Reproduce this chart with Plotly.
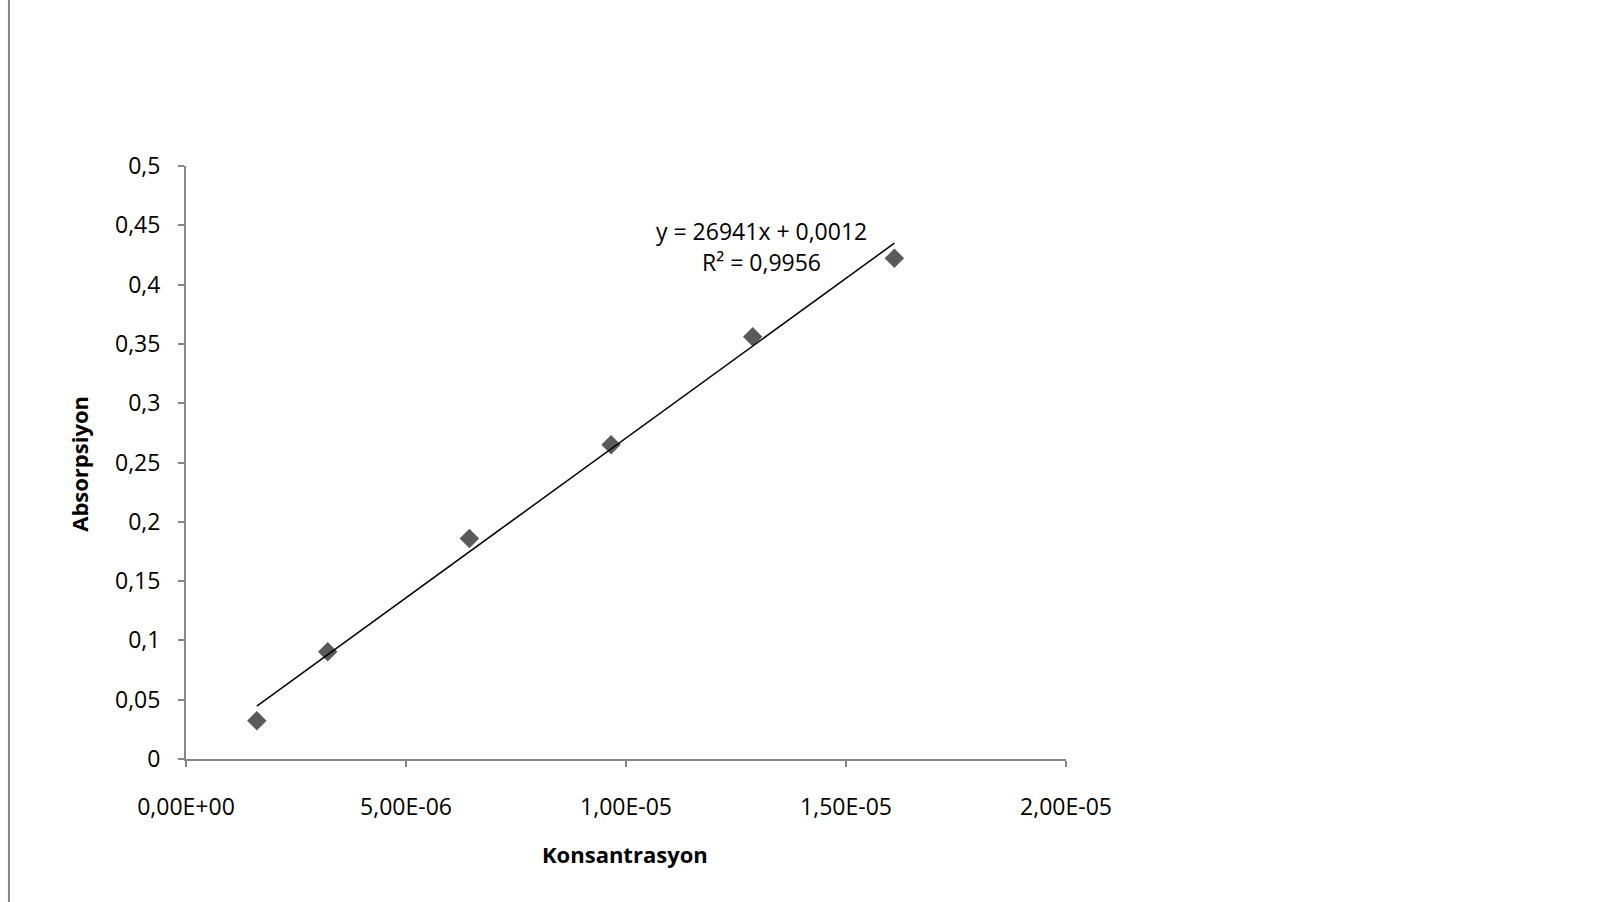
import plotly.graph_objects as go

# Calibration data: concentration vs absorbance
konsantrasyon = [1.61e-6, 3.22e-6, 6.44e-6, 9.66e-6, 1.288e-5, 1.61e-5]
absorpsiyon = [0.0323, 0.0904, 0.1859, 0.2650, 0.3560, 0.4222]

# Linear fit reported on the chart
egim = 26941
kesisim = 0.0012
r_kare = 0.9956

y_ticks = [0, 0.05, 0.1, 0.15, 0.2, 0.25, 0.3, 0.35, 0.4, 0.45, 0.5]
y_ticktext = ["0", "0,05", "0,1", "0,15", "0,2", "0,25", "0,3", "0,35", "0,4", "0,45", "0,5"]
x_ticks = [0, 5e-6, 1e-5, 1.5e-5, 2e-5]
x_ticktext = ["0,00E+00", "5,00E-06", "1,00E-05", "1,50E-05", "2,00E-05"]

FONT = "Open Sans"
AXIS_GRAY = "#868686"

x_fit = [konsantrasyon[0], konsantrasyon[-1]]
y_fit = [egim * x + kesisim for x in x_fit]

fig = go.Figure()
fig.add_trace(go.Scatter(
    x=konsantrasyon, y=absorpsiyon, mode="markers",
    marker=dict(symbol="diamond", size=15, color="#5a5a5a"),
    showlegend=False, cliponaxis=False,
))
fig.add_trace(go.Scatter(
    x=x_fit, y=y_fit, mode="lines",
    line=dict(color="black", width=1.5),
    showlegend=False,
))

fig.update_layout(
    width=1599, height=902,
    margin=dict(l=186, r=533, t=166, b=143),
    paper_bgcolor="white", plot_bgcolor="white",
    font=dict(family=FONT, size=23, color="black"),
    xaxis=dict(
        range=[0, 2e-5], tickvals=x_ticks, ticktext=x_ticktext,
        showgrid=False, zeroline=False, showline=True, linecolor=AXIS_GRAY, linewidth=2,
        ticks="outside", ticklen=6, tickcolor=AXIS_GRAY, tickwidth=2,
        ticklabelstandoff=20,
    ),
    yaxis=dict(
        range=[0, 0.5], tickvals=y_ticks, ticktext=y_ticktext,
        showgrid=False, zeroline=False, showline=True, linecolor=AXIS_GRAY, linewidth=2,
        ticks="outside", ticklen=6, tickcolor=AXIS_GRAY, tickwidth=2,
        ticklabelstandoff=13,
    ),
    shapes=[dict(
        type="line", xref="paper", yref="paper",
        x0=-0.2012, x1=-0.2012, y0=-0.3, y1=1.35,
        line=dict(color=AXIS_GRAY, width=2),
    )],
    annotations=[
        dict(text="<b>Absorpsiyon</b>", xref="paper", yref="paper",
             x=-0.121, y=0.497, xanchor="center", yanchor="middle",
             textangle=-90, showarrow=False, font=dict(size=22)),
        dict(text="<b>Konsantrasyon</b>", xref="paper", yref="paper",
             x=0.499, y=-0.161, xanchor="center", yanchor="middle",
             showarrow=False, font=dict(size=22)),
        dict(text=f"y = {egim}x + {str(kesisim).replace('.', ',')}",
             x=1.309e-5, y=0.4456, xanchor="center", yanchor="middle",
             showarrow=False, font=dict(size=23)),
        dict(text=f"R² = {str(r_kare).replace('.', ',')}",
             x=1.309e-5, y=0.419, xanchor="center", yanchor="middle",
             showarrow=False, font=dict(size=23)),
    ],
)

fig.write_html("out.html")
